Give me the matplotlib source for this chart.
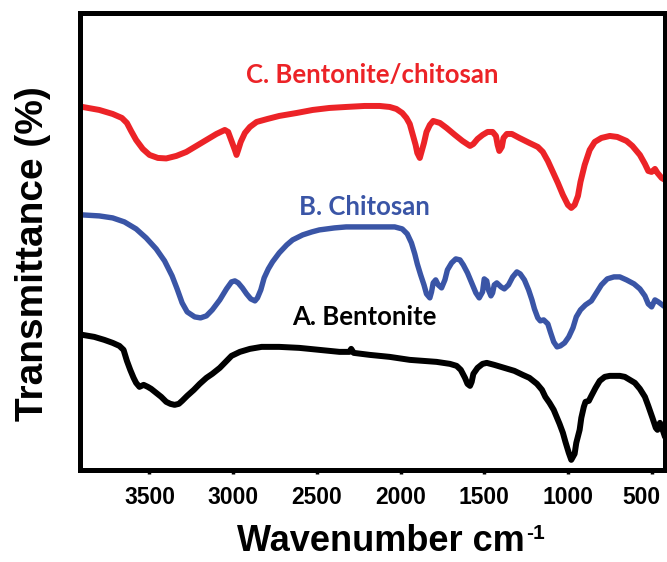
import matplotlib
matplotlib.use("Agg")
import matplotlib.pyplot as plt
from matplotlib.transforms import ScaledTranslation

# FTIR spectra: wavenumber (cm-1) and transmittance (arbitrary units, stacked)
wn_C = [3900, 3800, 3720, 3665, 3635, 3610, 3580, 3540, 3500, 3450, 3400, 3340, 3280,
        3220, 3160, 3100, 3050, 3030, 3010, 2990, 2980, 2970, 2955, 2930, 2900, 2860,
        2795, 2725, 2620, 2525, 2425, 2325, 2215, 2125, 2065, 2025, 1990, 1965, 1945,
        1930, 1910, 1900, 1885, 1875, 1860, 1845, 1825, 1805, 1765, 1725, 1675, 1630,
        1585, 1565, 1540, 1510, 1480, 1450, 1430, 1420, 1410, 1395, 1385, 1365, 1335,
        1290, 1230, 1180, 1150, 1120, 1090, 1060, 1030, 1000, 980, 960, 940, 925, 900,
        870, 840, 800, 750, 705, 650, 615, 570, 540, 520, 500, 480, 465, 440, 420]
tr_C = [363, 360, 356, 352, 347, 339, 330, 321, 315, 312, 311.5, 314, 318,
        324, 330, 336, 340, 338, 329, 320, 315, 320, 328, 337, 343, 348,
        351, 354, 357, 360, 362, 363, 364, 364, 363, 361, 357, 352, 346,
        337, 325, 317, 312, 318, 327, 338, 345, 349, 347, 342, 335, 329,
        324, 326, 331, 335, 338, 338, 334, 325, 319, 323, 332, 336, 336,
        332, 327, 323, 318, 309, 298, 287, 275, 265, 262, 265, 274, 288, 305,
        320, 328, 332, 334, 333, 329, 324, 315, 306, 299, 298, 301, 297, 292, 290]

wn_B = [3900, 3800, 3720, 3650, 3580, 3520, 3460, 3410, 3365, 3335, 3305, 3275, 3230,
        3195, 3160, 3125, 3080, 3040, 3010, 2990, 2970, 2945, 2920, 2895, 2870, 2855,
        2835, 2815, 2790, 2765, 2725, 2680, 2645, 2585, 2530, 2485, 2395, 2325, 2215,
        2125, 2035, 1990, 1960, 1935, 1915, 1900, 1880, 1860, 1845, 1825, 1815, 1805,
        1790, 1775, 1755, 1735, 1720, 1695, 1670, 1645, 1625, 1600, 1575, 1550, 1530,
        1510, 1500, 1485, 1475, 1460, 1450, 1440, 1425, 1400, 1380, 1355, 1330, 1305,
        1285, 1260, 1235, 1215, 1200, 1180, 1165, 1145, 1120, 1105, 1085, 1065, 1045,
        1020, 995, 970, 950, 925, 895, 860, 830, 800, 765, 725, 690, 650, 605, 570,
        540, 520, 500, 480, 460, 420]
tr_B = [255, 254, 252, 248, 241, 232, 221, 209, 194, 181, 167, 158, 153,
        152, 154, 160, 170, 181, 188, 189, 187, 182, 176, 171, 169, 172,
        180, 192, 201, 208, 217, 225, 230, 235, 238, 240, 242, 243, 243,
        243, 243, 241, 236, 227, 216, 206, 195, 185, 176, 172, 178, 187,
        190, 185, 182, 190, 200, 207, 211, 210, 205, 197, 187, 177, 172,
        178, 191, 189, 180, 174, 177, 185, 187, 183, 181, 185, 193, 198,
        196, 190, 180, 170, 161, 152, 149, 150, 146, 138, 128, 123, 124,
        127, 133, 142, 153, 160, 165, 169, 177, 185, 191, 193, 193, 190, 186, 181,
        174, 166, 163, 170, 168, 163]

wn_A = [3900, 3830, 3770, 3720, 3680, 3655, 3635, 3615, 3595, 3580, 3560, 3535, 3510,
        3490, 3460, 3430, 3400, 3375, 3350, 3325, 3305, 3275, 3235, 3200, 3160, 3125,
        3080, 3045, 3010, 2960, 2900, 2830, 2725, 2605, 2485, 2365, 2305, 2295, 2280,
        2185, 2065, 1945, 1785, 1705, 1665, 1640, 1615, 1600, 1585, 1575, 1565, 1540,
        1510, 1485, 1440, 1380, 1320, 1270, 1230, 1185, 1155, 1135, 1110, 1085, 1065,
        1050, 1030, 1015, 995, 980, 960, 950, 930, 920, 905, 895, 875, 860, 835, 810,
        780, 750, 720, 690, 660, 630, 600, 570, 540, 520, 495, 475, 465, 450, 440, 420]
tr_A = [135, 133, 130, 127, 124, 120, 109, 100, 92, 87, 83, 85, 83,
        81, 77, 73, 68, 66, 65, 66, 69, 74, 80, 86, 92, 96,
        102, 108, 114, 118, 121, 123, 123, 122, 120, 118, 118, 121, 117,
        115, 113, 110, 108, 106, 104, 100, 92, 86, 84, 88, 96, 102,
        106, 107, 105, 102, 99, 95, 92, 86, 80, 73, 67, 60, 52,
        46, 37, 28, 17, 10, 16, 27, 40, 52, 63, 68, 69, 74, 82, 89,
        93, 94, 94, 94, 93, 90, 87, 81, 73, 64, 52, 42, 40, 47, 43, 33]

labels = ["A. Bentonite", "B. Chitosan", "C. Bentonite/chitosan"]
label_pos = [(2215, 153), (2215, 263), (2167, 395)]
colors = ["#000000", "#3A55A6", "#EC2327"]
widths = [4.3, 3.9, 4.3]
xticks = [3500, 3000, 2500, 2000, 1500, 1000, 500]

fig = plt.figure(figsize=(6.67, 5.62), dpi=100)
ax = fig.add_axes([0.12, 0.164, 0.877, 0.812])

for wn, tr, c, lw in zip([wn_A, wn_B, wn_C], [tr_A, tr_B, tr_C], colors, widths):
    ax.plot(wn, tr, color=c, lw=lw, solid_joinstyle='round', solid_capstyle='round')

for (lx, ly), t, c in zip(label_pos, labels, colors):
    ax.text(lx, ly, t, color=c, fontsize=18.5, fontfamily='Lato', fontweight='bold',
            ha='center', va='center')

ax.set_xlim(3915, 420)
ax.set_ylim(0, 456.5)
ax.set_xticks(xticks)
ax.set_xticklabels([str(v) for v in xticks], fontfamily='Liberation Sans',
                   fontweight='bold', fontsize=16.5)
ax.set_yticks([])
ax.tick_params(axis='x', direction='out', length=3, width=2.5, pad=9)
for s in ax.spines.values():
    s.set_linewidth(3.6)

# the last tick label sits slightly left of its tick in the original
last = ax.xaxis.get_major_ticks()[-1].label1
last.set_transform(last.get_transform() + ScaledTranslation(-7 / 72, 0, fig.dpi_scale_trans))

xl = ax.text(0.515, -0.118, 'Wavenumber cm', transform=ax.transAxes,
             fontfamily='Liberation Sans', fontweight='bold', fontsize=26,
             ha='center', va='top')
ax.annotate('-1', xy=(1.0, 1.0), xycoords=xl, xytext=(0.5, 0),
            textcoords='offset points', ha='left', va='top',
            fontfamily='Liberation Sans', fontweight='bold', fontsize=15)

ax.set_ylabel('Transmittance (%)', fontfamily='Liberation Sans',
              fontweight='bold', fontsize=28)
ax.yaxis.set_label_coords(-0.05, 0.473)

fig.savefig('out.png', dpi=100)
